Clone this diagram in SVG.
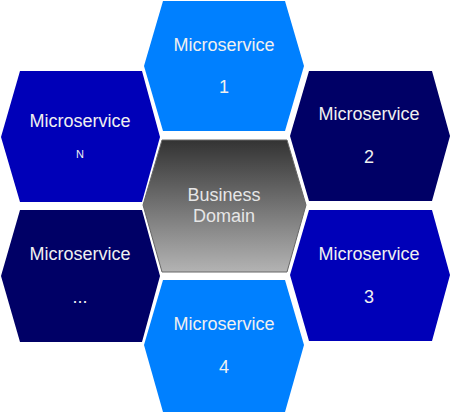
<svg xmlns="http://www.w3.org/2000/svg" width="451" height="414" viewBox="0 0 451 414">
<defs>
<linearGradient id="gray" x1="0" y1="0" x2="0" y2="1">
<stop offset="0" stop-color="#333333"/>
<stop offset="1" stop-color="#b3b3b3"/>
</linearGradient>
<style>
.light{fill:#0080ff;}
.mid{fill:#0000b8;}
.dark{fill:#000066;}
.t{font-family:"Liberation Sans",Arial,sans-serif;font-size:18px;fill:#f0f0f0;text-anchor:middle;}
.s{font-size:11px;}
.c{fill:#e6e6e6;}
</style>
</defs>
<rect width="451" height="414" fill="#ffffff"/>
<g id="connectors"/>
<g id="ms1">
<polygon class="light" points="163,1 285,1 304,66 285,131 163,131 144,66"/>
<text class="t" x="224" y="51">Microservice</text>
<text class="t" x="224" y="93">1</text>
</g>
<g id="msN">
<polygon class="mid" points="20,71 142,71 160,137 142,202 20,202 1,137"/>
<text class="t" x="80" y="127">Microservice</text>
<text class="t s" x="80" y="158">N</text>
</g>
<g id="ms2">
<polygon class="dark" points="309,71 432,71 450,136 432,201 309,201 290,136"/>
<text class="t" x="369" y="120">Microservice</text>
<text class="t" x="369" y="163">2</text>
</g>
<g id="core">
<polygon fill="url(#gray)" stroke="#666666" stroke-width="1" points="162,140 287,140 306,205 287,272 162,272 143,205"/>
<text class="t c" x="224" y="201">Business</text>
<text class="t c" x="224" y="222">Domain</text>
</g>
<g id="msDots">
<polygon class="dark" points="20,210 142,210 160,276 142,342 20,342 1,276"/>
<text class="t" x="80" y="260">Microservice</text>
<text class="t" x="80" y="303">...</text>
</g>
<g id="ms3">
<polygon class="mid" points="309,210 432,210 450,275 432,341 309,341 290,275"/>
<text class="t" x="369" y="260">Microservice</text>
<text class="t" x="369" y="303">3</text>
</g>
<g id="ms4">
<polygon class="light" points="163,280 285,280 304,345 285,412 163,412 144,345"/>
<text class="t" x="224" y="330">Microservice</text>
<text class="t" x="224" y="373">4</text>
</g>
</svg>
